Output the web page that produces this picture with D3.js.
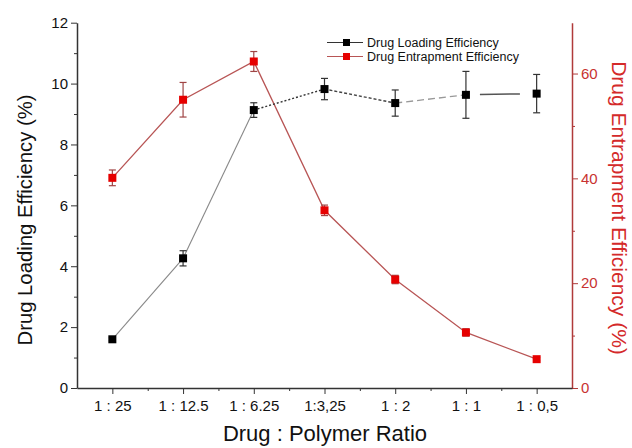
<!DOCTYPE html>
<html>
<head>
<meta charset="utf-8">
<script src="https://cdn.jsdelivr.net/npm/d3@7"></script>
<style>
  body { margin: 0; background: #fff; }
  text { font-family: "Liberation Sans", Arial, sans-serif; }
</style>
</head>
<body>
<script>
var ratios = ["1 : 25", "1 : 12.5", "1 : 6.25", "1:3,25", "1 : 2", "1 : 1", "1 : 0,5"];
var loading = [1.6, 4.26, 9.13, 9.82, 9.36, 9.63, 9.67];
var loadingErr = [0.05, 0.25, 0.24, 0.35, 0.43, 0.77, 0.63];
var entrap = [40.1, 55.0, 62.3, 33.9, 20.7, 10.6, 5.5];
var entrapErr = [1.5, 3.3, 1.9, 1.0, 0.8, 0.7, 0.3];
var leftTicks = [0, 2, 4, 6, 8, 10, 12];
var rightTicks = [0, 20, 40, 60];

var w = 632, h = 448;
var x0 = 77, x1 = 572, yTop = 22.7, yBot = 388;

var svg = d3.select("body").append("svg")
  .attr("width", w).attr("height", h);

var x = d3.scaleLinear().domain([0.5, 7.5]).range([x0, x1]);
var yL = d3.scaleLinear().domain([0, 12]).range([yBot, yTop]);
var yR = d3.scaleLinear().domain([0, 69.7]).range([yBot, yTop]);

var axisCol = "#333";
var redAxis = "#b03a3a";

// minor ticks
svg.append("g").attr("transform", "translate(" + x0 + ",0)")
  .call(d3.axisLeft(yL).tickValues(d3.range(1, 12, 2)).tickSize(3).tickFormat(""))
  .call(function(g) { g.select(".domain").remove(); g.selectAll("line").attr("stroke", axisCol); });
svg.append("g").attr("transform", "translate(" + x1 + ",0)")
  .call(d3.axisRight(yR).tickValues([10, 30, 50]).tickSize(3).tickFormat(""))
  .call(function(g) { g.select(".domain").remove(); g.selectAll("line").attr("stroke", redAxis); });
svg.append("g").attr("transform", "translate(0," + yBot + ")")
  .call(d3.axisBottom(x).tickValues(d3.range(1.5, 7.5, 1)).tickSize(3).tickFormat(""))
  .call(function(g) { g.select(".domain").remove(); g.selectAll("line").attr("stroke", axisCol); });

// left axis
var gl = svg.append("g").attr("transform", "translate(" + x0 + ",0)")
  .call(d3.axisLeft(yL).tickValues(leftTicks).tickSize(6).tickPadding(3).tickSizeOuter(0));
gl.select(".domain").attr("stroke", axisCol).attr("stroke-width", 1.5);
gl.selectAll("line").attr("stroke", axisCol);
gl.selectAll("text").attr("font-size", 15).attr("fill", "#111");

// right axis
var gr = svg.append("g").attr("transform", "translate(" + x1 + ",0)")
  .call(d3.axisRight(yR).tickValues(rightTicks).tickSize(6).tickPadding(3).tickSizeOuter(0));
gr.select(".domain").attr("stroke", redAxis).attr("stroke-width", 1.5);
gr.selectAll("line").attr("stroke", redAxis);
gr.selectAll("text").attr("font-size", 15).attr("fill", "#c83232");

// bottom axis
var gb = svg.append("g").attr("transform", "translate(0," + yBot + ")")
  .call(d3.axisBottom(x).tickValues(d3.range(1, 8)).tickSize(6).tickPadding(6).tickSizeOuter(0)
    .tickFormat(function(d) { return ratios[d - 1]; }));
gb.select(".domain").attr("stroke", axisCol).attr("stroke-width", 1.5);
gb.selectAll("line").attr("stroke", axisCol);
gb.selectAll("text").attr("font-size", 15).attr("fill", "#111");

// axis titles
svg.append("text")
  .attr("transform", "translate(32,220) rotate(-90)")
  .attr("text-anchor", "middle")
  .attr("font-size", 20.3).attr("fill", "#111")
  .text("Drug Loading Efficiency (%)");
svg.append("text")
  .attr("transform", "translate(612,208) rotate(90)")
  .attr("text-anchor", "middle")
  .attr("font-size", 21).attr("fill", "#d42a2a")
  .text("Drug Entrapment Efficiency (%)");
svg.append("text")
  .attr("x", 325).attr("y", 441)
  .attr("text-anchor", "middle")
  .attr("font-size", 22).attr("fill", "#111")
  .text("Drug : Polymer Ratio");

// entrapment line
var idx = d3.range(entrap.length);
svg.append("path")
  .datum(idx)
  .attr("fill", "none").attr("stroke", "#b85555").attr("stroke-width", 1.3)
  .attr("d", d3.line().x(function(i) { return x(i + 1); }).y(function(i) { return yR(entrap[i]); }));

// loading line segments, mixed styles
var segStyle = [
  { dash: null, col: "#888", sw: 1.1 },
  { dash: null, col: "#888", sw: 1.1 },
  { dash: "2,2", col: "#333", sw: 1.4 },
  { dash: "3,2", col: "#444", sw: 1.4 },
  { dash: "7,4", col: "#999", sw: 1.3 },
  { dash: "0,14,40,100", col: "#555", sw: 1.5 }
];
svg.selectAll(".seg").data(segStyle).enter().append("line")
  .attr("class", "seg")
  .attr("x1", function(d, i) { return x(i + 1); })
  .attr("y1", function(d, i) { return yL(loading[i]); })
  .attr("x2", function(d, i) { return x(i + 2); })
  .attr("y2", function(d, i) { return yL(loading[i + 1]); })
  .attr("stroke", function(d) { return d.col; })
  .attr("stroke-width", function(d) { return d.sw; })
  .attr("stroke-dasharray", function(d) { return d.dash; });

// error bars
function errBars(vals, errs, ys, col) {
  var g = svg.append("g");
  idx.forEach(function(i) {
    var cx = x(i + 1), lo = ys(vals[i] - errs[i]), hi = ys(vals[i] + errs[i]);
    g.append("line").attr("x1", cx).attr("x2", cx).attr("y1", lo).attr("y2", hi)
      .attr("stroke", col).attr("stroke-width", 1.2);
    [lo, hi].forEach(function(yy) {
      g.append("line").attr("x1", cx - 3.5).attr("x2", cx + 3.5).attr("y1", yy).attr("y2", yy)
        .attr("stroke", col).attr("stroke-width", 1.2);
    });
  });
}
errBars(entrap, entrapErr, yR, "#a04545");
errBars(loading, loadingErr, yL, "#333");

// markers
svg.selectAll(".mr").data(idx).enter().append("rect")
  .attr("x", function(i) { return x(i + 1) - 4; })
  .attr("y", function(i) { return yR(entrap[i]) - 4; })
  .attr("width", 8).attr("height", 8).attr("fill", "#e60000");
svg.selectAll(".mb").data(idx).enter().append("rect")
  .attr("x", function(i) { return x(i + 1) - 4; })
  .attr("y", function(i) { return yL(loading[i]) - 4; })
  .attr("width", 8).attr("height", 8).attr("fill", "#000");

// legend
var leg = [
  { name: "Drug Loading Efficiency", line: "#333", mark: "#000", y: 42.5 },
  { name: "Drug Entrapment Efficiency", line: "#b85555", mark: "#e60000", y: 56.5 }
];
var lg = svg.selectAll(".leg").data(leg).enter().append("g");
lg.append("line").attr("x1", 327).attr("x2", 363)
  .attr("y1", function(d) { return d.y; }).attr("y2", function(d) { return d.y; })
  .attr("stroke", function(d) { return d.line; }).attr("stroke-width", 1.2);
lg.append("rect").attr("x", 343).attr("y", function(d) { return d.y - 3.5; })
  .attr("width", 7).attr("height", 7).attr("fill", function(d) { return d.mark; });
lg.append("text").attr("x", 367).attr("y", function(d) { return d.y + 4.5; })
  .attr("font-size", 12.5).attr("fill", "#111")
  .text(function(d) { return d.name; });
</script>
</body>
</html>
